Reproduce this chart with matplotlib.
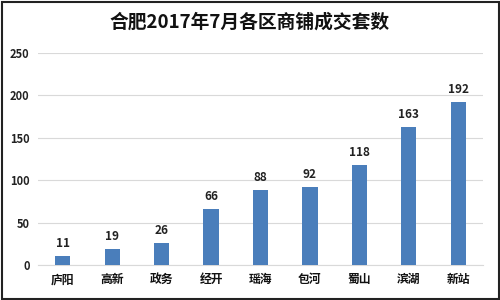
import matplotlib.pyplot as plt
from matplotlib.patches import Rectangle

plt.rcParams['font.family'] = ['Noto Sans CJK SC', 'DejaVu Sans']

# 合肥2017年7月各区商铺成交套数
districts = ['庐阳', '高新', '政务', '经开', '瑶海', '包河', '蜀山', '滨湖', '新站']
deals = [11, 19, 26, 66, 88, 92, 118, 163, 192]
yticks = [0, 50, 100, 150, 200, 250]

fig = plt.figure(figsize=(5, 3), dpi=100)
ax = fig.add_axes([0.076, 0.117, 0.89, 0.706])

x = range(len(districts))
bars = ax.bar(x, deals, width=0.31, color='#4a7ebb', zorder=3)
for b, v in zip(bars, deals):
    ax.text(b.get_x() + b.get_width() / 2, v + 7, str(v), ha='center', va='bottom',
            fontsize=8.5, fontweight='bold', color='#222222')

ax.set_ylim(0, 250)
ax.set_xlim(-0.5, len(districts) - 0.5)
ax.set_yticks(yticks)
ax.set_yticklabels([str(t) for t in yticks], fontsize=8, fontweight='bold', color='#222222')
ax.set_xticks(list(x))
ax.set_xticklabels(districts, fontsize=8.5, fontweight='bold', color='#111111')
ax.yaxis.grid(True, color='#d9d9d9', linewidth=0.8, zorder=0)
ax.tick_params(length=0, pad=6)
for s in ['top', 'right', 'left']:
    ax.spines[s].set_visible(False)
ax.spines['bottom'].set_color('#d9d9d9')

fig.text(0.5, 0.925, '合肥2017年7月各区商铺成交套数', ha='center', va='center',
         fontsize=13.5, fontweight='bold', color='#111111')

# outer frame
fig.patches.append(Rectangle((0.003, 0.005), 0.994, 0.99, transform=fig.transFigure,
                             fill=False, edgecolor='#222222', linewidth=1.5))

fig.savefig('out.png', dpi=100)
